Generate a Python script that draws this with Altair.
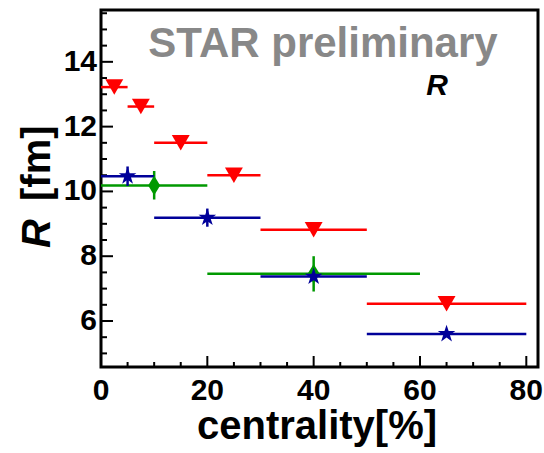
import altair as alt
import pandas as pd

# ---- data ----
red_x = [2.5, 7.5, 15, 25, 40, 65]
red_xlo = [0, 5, 10, 20, 30, 50]
red_xhi = [5, 10, 20, 30, 50, 80]
red_y = [13.22, 12.62, 11.5, 10.5, 8.82, 6.53]
red_yerr = [0.1, 0.1, 0.1, 0.1, 0.1, 0.1]

blue_x = [5, 20, 40, 65]
blue_xlo = [0, 10, 30, 50]
blue_xhi = [10, 30, 50, 80]
blue_y = [10.47, 9.19, 7.37, 5.6]
blue_yerr = [0.3, 0.28, 0.1, 0.08]

green_x = [10, 40]
green_xlo = [0, 20]
green_xhi = [20, 60]
green_y = [10.18, 7.46]
green_ylo = [9.75, 6.91]
green_yhi = [10.63, 8.0]

x_major = [0, 20, 40, 60, 80]
x_minor = [5, 10, 15, 25, 30, 35, 45, 50, 55, 65, 70, 75]
y_major = [6, 8, 10, 12, 14]
y_minor = [5, 5.5, 6.5, 7, 7.5, 8.5, 9, 9.5, 10.5, 11, 11.5, 12.5, 13, 13.5, 14.5, 15, 15.5]

x_title = "centrality[%]"
y_title_sym = "R"
y_title_unit = "[fm]"
watermark = "STAR preliminary"
legend_label = "R"

FONT = "Liberation Sans"
W, H = 437, 357
RED, BLUE, GREEN = "#ff0000", "#000099", "#009900"
STAR = ("M0,-1L0.225,-0.309L0.951,-0.309L0.363,0.118L0.588,0.809L0,0.382"
        "L-0.588,0.809L-0.363,0.118L-0.951,-0.309L-0.225,-0.309Z")
TALL_DIAMOND = "M0,-1L0.62,0L0,1L-0.62,0Z"

xs = alt.Scale(domain=[0, 82.2], nice=False, zero=False)
ys = alt.Scale(domain=[4.58, 15.6], nice=False, zero=False)


def series(xv, xlo, xhi, yv, ylo, yhi):
    return pd.DataFrame({"x": xv, "xlo": xlo, "xhi": xhi, "y": yv, "ylo": ylo, "yhi": yhi})


red = series(red_x, red_xlo, red_xhi, red_y,
             [a - b for a, b in zip(red_y, red_yerr)], [a + b for a, b in zip(red_y, red_yerr)])
blue = series(blue_x, blue_xlo, blue_xhi, blue_y,
              [a - b for a, b in zip(blue_y, blue_yerr)], [a + b for a, b in zip(blue_y, blue_yerr)])
green = series(green_x, green_xlo, green_xhi, green_y, green_ylo, green_yhi)


def errbars(df, color):
    h = alt.Chart(df).mark_rule(color=color, strokeWidth=2.5).encode(
        x=alt.X("xlo:Q", scale=xs, axis=None), x2="xhi:Q",
        y=alt.Y("y:Q", scale=ys, axis=None))
    v = alt.Chart(df).mark_rule(color=color, strokeWidth=2.5).encode(
        x=alt.X("x:Q", scale=xs, axis=None),
        y=alt.Y("ylo:Q", scale=ys, axis=None), y2="yhi:Q")
    return h + v


def markers(df, color, shape, size):
    return alt.Chart(df).mark_point(shape=shape, filled=True, color=color, size=size, opacity=1,
                                    strokeWidth=0).encode(
        x=alt.X("x:Q", scale=xs, axis=None), y=alt.Y("y:Q", scale=ys, axis=None))


# ticks (drawn inward, as in the reference)
ytick_major = alt.Chart(pd.DataFrame({"v": y_major})).mark_rule(color="black", strokeWidth=2).encode(
    y=alt.Y("v:Q", scale=ys, axis=None), x=alt.value(0), x2=alt.value(12))
ytick_minor = alt.Chart(pd.DataFrame({"v": y_minor})).mark_rule(color="black", strokeWidth=2).encode(
    y=alt.Y("v:Q", scale=ys, axis=None), x=alt.value(0), x2=alt.value(6))
xtick_major = alt.Chart(pd.DataFrame({"v": x_major})).mark_rule(color="black", strokeWidth=2).encode(
    x=alt.X("v:Q", scale=xs, axis=None), y=alt.value(H), y2=alt.value(H - 11))
xtick_minor = alt.Chart(pd.DataFrame({"v": x_minor})).mark_rule(color="black", strokeWidth=2).encode(
    x=alt.X("v:Q", scale=xs, axis=None), y=alt.value(H), y2=alt.value(H - 5))

# tick labels
xlabels = alt.Chart(pd.DataFrame({"v": x_major})).mark_text(
    font=FONT, fontSize=30, fontWeight="bold", align="center", baseline="alphabetic", color="black").encode(
    x=alt.X("v:Q", scale=xs, axis=None), y=alt.value(H + 33), text=alt.Text("v:Q", format="d"))
ylabels = alt.Chart(pd.DataFrame({"v": y_major})).mark_text(
    font=FONT, fontSize=30, fontWeight="bold", align="right", baseline="middle", color="black").encode(
    y=alt.Y("v:Q", scale=ys, axis=None), x=alt.value(-4), text=alt.Text("v:Q", format="d"))


def label(txt, x, y, size, color="black", style="normal", align="center", angle=0):
    return alt.Chart(pd.DataFrame({"t": [txt]})).mark_text(
        font=FONT, fontSize=size, fontWeight="bold", fontStyle=style, color=color,
        align=align, baseline="alphabetic", angle=angle).encode(
        x=alt.value(x), y=alt.value(y), text="t:N")


xt = label(x_title, 216, 429, 40)
yt1 = label(y_title_sym, -51, 238, 40, style="italic", align="left", angle=270)
yt2 = label(y_title_unit, -51, 191, 40, align="left", angle=270)
wm = label(watermark, 222, 47, 42, color="#888888")
lg = label(legend_label, 336, 85, 30, style="italic")

chart = alt.layer(
    ytick_major, ytick_minor, xtick_major, xtick_minor,
    errbars(green, GREEN), errbars(blue, BLUE), errbars(red, RED),
    markers(green, GREEN, TALL_DIAMOND, 380),
    markers(blue, BLUE, STAR, 340),
    markers(red, RED, "triangle-down", 320),
    xlabels, ylabels, xt, yt1, yt2, wm, lg,
).properties(
    width=W, height=H,
    padding={"left": 101, "top": 10, "right": 6, "bottom": 86},
    autosize=alt.AutoSizeParams(type="none"),
).configure_view(stroke="black", strokeWidth=3)

chart.save("out.html", embed_options={"renderer": "svg", "actions": False})
